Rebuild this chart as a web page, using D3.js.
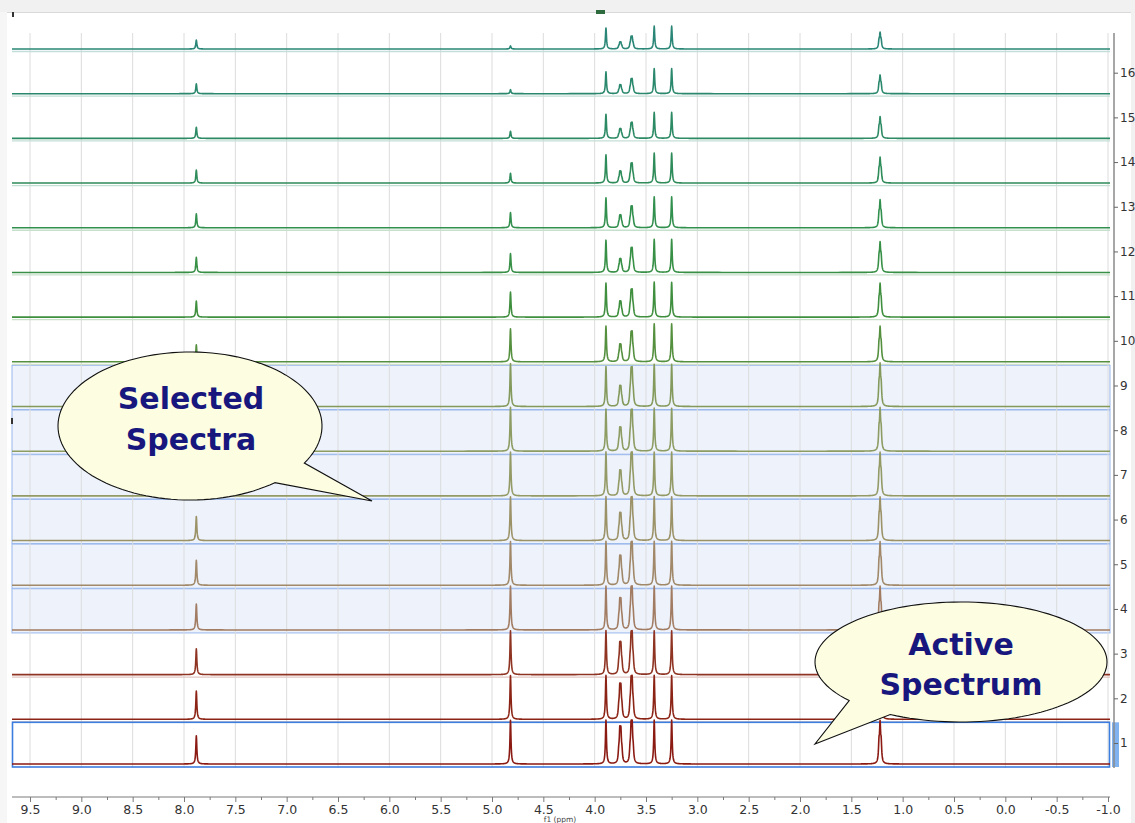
<!DOCTYPE html>
<html><head><meta charset="utf-8">
<script src="https://cdn.jsdelivr.net/npm/d3@7"></script>
<style>html,body{margin:0;padding:0;background:#fff;overflow:hidden}</style>
</head><body>
<svg id="chart" width="1135" height="823"></svg>
<script>
// ---------------- data ----------------
const spectrumIds = [1,2,3,4,5,6,7,8,9,10,11,12,13,14,15,16,17];
const axisLabels = [1,2,3,4,5,6,7,8,9,10,11,12,13,14,15,16];
const ppmTicks = [9.5,9.0,8.5,8.0,7.5,7.0,6.5,6.0,5.5,5.0,4.5,4.0,3.5,3.0,2.5,2.0,1.5,1.0,0.5,0.0,-0.5,-1.0];
const minorTicks = [9.25,8.75,8.25,7.75,7.25,6.75,6.25,5.75,5.25,4.75,4.25,3.75,3.25,2.75,2.25,1.75,1.25,0.75,0.25,-0.25,-0.75];
const peakShifts = [7.88, 4.82, 3.89, 3.75, 3.64, 3.42, 3.25, 1.22];
const peakMultiplicity = [1, 1, 1, 4, 4, 1, 1, 3];
// peak heights (a.u., 100 = one stack step) for spectrum 1..17
const h788 = [63,63,58,58,56,54,51,49,45,38,36,34,31,29,25,22,20];
const h482 = [98,98,98,98,98,98,98,98,96,74,56,42,34,22,16,9,7];
const h389 = [98,98,98,98,98,98,98,94,89,80,76,72,67,63,54,49,47];
const h375 = [85,81,74,72,67,63,58,54,47,40,36,31,29,27,22,20,16];
const h364 = [98,98,98,98,98,98,98,94,89,69,63,56,49,45,36,34,29];
const h342 = [98,98,98,98,98,98,98,96,94,85,78,74,69,67,58,56,51];
const h325 = [98,98,98,98,98,98,98,96,94,85,78,74,69,67,58,56,51];
const h122 = [98,98,98,98,98,98,98,98,98,80,76,69,63,58,49,42,38];
const peakHeights = [h788, h482, h389, h375, h364, h342, h325, h122];
const spectrumColors = ["#8a1a12","#8c2416","#8f3422","#a27c62","#a08868","#9c9268","#949a66","#8c9c62","#849a5c",
                        "#55903f","#3f8f3f","#379046","#32904f","#2e8c5a","#2c8a64","#2a886d","#2a8676"];
const selectedSpectra = [4,5,6,7,8,9];
const activeSpectrum = 1;

// ---------------- layout ----------------
const svg = d3.select("#chart");
const W = 1135, H = 823;
const plotLeft = 12, plotRight = 1110, plotTop = 33, plotBottom = 768;
const x = d3.scaleLinear().domain([9.5, -1.0]).range([30, 1108]);
const yBase = d3.scaleLinear().domain([1, 17]).range([764, 49]);
const rowStep = yBase(1) - yBase(2);
const intens = d3.scaleLinear().domain([0, 100]).range([0, rowStep]);
const yLabel = d3.scaleLinear().domain([1, 17]).range([743, 28]);

svg.append("rect").attr("width", W).attr("height", H).attr("fill", "#fff");
svg.append("rect").attr("x", 0).attr("y", 0).attr("width", W).attr("height", 12).attr("fill", "#f1f1f1");
svg.append("line").attr("x1", 0).attr("x2", W).attr("y1", 12.5).attr("y2", 12.5).attr("stroke", "#d9d9d9");
svg.append("rect").attr("x", 0).attr("y", 12).attr("width", 7).attr("height", H).attr("fill", "#f6f6f6");
svg.append("rect").attr("x", 1131).attr("y", 12).attr("width", 4).attr("height", H).attr("fill", "#f1f1f1");

// selection bands
svg.append("g").selectAll("rect").data(selectedSpectra).join("rect")
  .attr("x", plotLeft).attr("width", plotRight - plotLeft)
  .attr("y", d => yBase(d + 1) + 3.5).attr("height", rowStep - 0.5)
  .attr("fill", "#edf2fb").attr("stroke", "#9ab8ec").attr("stroke-width", 1);

// vertical grid
svg.append("g").selectAll("line").data(ppmTicks).join("line")
  .attr("x1", d => x(d)).attr("x2", d => x(d))
  .attr("y1", plotTop).attr("y2", plotBottom)
  .attr("stroke", "#dcdcdc").attr("stroke-width", 1);

// pale separators under baselines (non-selected)
svg.append("g").selectAll("line")
  .data(spectrumIds.filter(d => !selectedSpectra.includes(d) && d !== activeSpectrum))
  .join("line")
  .attr("x1", plotLeft).attr("x2", plotRight)
  .attr("y1", d => yBase(d) + 2.5).attr("y2", d => yBase(d) + 2.5)
  .attr("stroke", d => d3.interpolateRgb(spectrumColors[d - 1], "#ffffff")(0.72))
  .attr("stroke-width", 1.3);

// active spectrum box
svg.append("rect").attr("x", plotLeft + 0.5).attr("width", plotRight - plotLeft - 1)
  .attr("y", yBase(activeSpectrum + 1) + 3).attr("height", rowStep)
  .attr("fill", "none").attr("stroke", "#3c7ee0").attr("stroke-width", 1.6);

// ---------------- spectra ----------------
const J = 0.0105, hw = 0.006;
function unitShape(n) {
  const w = [1], out = [];
  for (let i = 1; i < n; i++) w.push(w[i - 1] * (n - i) / i);
  for (let i = 0; i < n; i++) out.push({off: (i - (n - 1) / 2) * J, w: w[i]});
  const f = d => { let s = 0; out.forEach(l => { const t = (d - l.off) / hw; s += l.w / (1 + t * t); }); return s; };
  let mx = 0;
  for (let d = -0.05; d <= 0.05; d += 0.0005) mx = Math.max(mx, f(d));
  return d => f(d) / mx;
}
const shapes = peakMultiplicity.map(unitShape);
const ppmL = x.invert(plotLeft), ppmR = x.invert(plotRight);
// sampling grid: coarse everywhere, fine near peaks
let grid = d3.range(ppmL, ppmR, -0.04);
peakShifts.forEach(p => { grid = grid.concat(d3.range(p + 0.25, p - 0.25, -0.002)); });
grid.push(ppmR);
grid = grid.filter(v => v <= ppmL && v >= ppmR).sort((a, b) => b - a);

const line = d3.line().x(d => x(d[0])).y(d => d[1]);
const specG = svg.append("g");
spectrumIds.slice().reverse().forEach(k => {
  const pts = grid.map(ppm => {
    let s = 0;
    peakShifts.forEach((p, i) => { s += peakHeights[i][k - 1] * shapes[i](ppm - p); });
    return [ppm, yBase(k) - intens(s)];
  });
  specG.append("path").attr("d", line(pts)).attr("fill", "none")
    .attr("stroke", spectrumColors[k - 1]).attr("stroke-width", 1.6)
    .attr("stroke-linejoin", "round");
});

// ---------------- axes ----------------
const fmt = d => d.toFixed(1);
const xAxis = svg.append("g").attr("transform", "translate(0,797)");
xAxis.append("line").attr("x1", plotLeft).attr("x2", plotRight).attr("y1", 0).attr("y2", 0).attr("stroke", "#7a7a7a");
xAxis.append("g").call(d3.axisBottom(x).tickValues(ppmTicks).tickFormat(fmt).tickSize(5).tickSizeOuter(0).tickPadding(3))
  .call(g => g.select(".domain").remove())
  .call(g => g.selectAll("line").attr("stroke", "#7a7a7a"))
  .call(g => g.selectAll("text").attr("font-family", "DejaVu Sans").attr("font-size", 12.5).attr("fill", "#333"));
xAxis.append("g").call(d3.axisBottom(x).tickValues(minorTicks).tickFormat("").tickSize(3).tickSizeOuter(0))
  .call(g => g.select(".domain").remove())
  .call(g => g.selectAll("line").attr("stroke", "#7a7a7a"));
svg.append("text").attr("x", 560).attr("y", 821.5).attr("text-anchor", "middle")
  .attr("font-family", "DejaVu Sans").attr("font-size", 7.5).attr("fill", "#444").text("f1 (ppm)");

const yAxis = svg.append("g").attr("transform", "translate(1114,0)");
yAxis.append("rect").attr("x", -2).attr("width", 7)
  .attr("y", yBase(activeSpectrum + 1) + 3).attr("height", rowStep).attr("fill", "#7fb2ee");
yAxis.append("line").attr("x1", 0).attr("x2", 0).attr("y1", plotTop).attr("y2", plotBottom)
  .attr("stroke", "#8a8a8a").attr("stroke-width", 1.5);
yAxis.append("g").call(d3.axisRight(yLabel).tickValues(axisLabels).tickFormat(d3.format("d")).tickSize(4).tickSizeOuter(0).tickPadding(2))
  .call(g => g.select(".domain").remove())
  .call(g => g.selectAll("line").attr("stroke", "#666"))
  .call(g => g.selectAll("text").attr("font-family", "DejaVu Sans").attr("font-size", 12).attr("fill", "#333"));

// small UI marks
svg.append("rect").attr("x", 12).attr("y", 12).attr("width", 2).attr("height", 5).attr("fill", "#333");
svg.append("rect").attr("x", 596).attr("y", 10).attr("width", 9).attr("height", 4).attr("fill", "#2d6b3f");
svg.append("rect").attr("x", 11).attr("y", 418).attr("width", 2).attr("height", 6).attr("fill", "#333");

// ---------------- callouts ----------------
function callout(cx, cy, rx, ry, a0, a1, tip) {
  const p = d3.path();
  const n = 120;
  for (let i = 0; i <= n; i++) {
    const a = (a0 + (a1 - a0) * i / n) * Math.PI / 180;
    const px = cx + rx * Math.cos(a), py = cy + ry * Math.sin(a);
    if (i === 0) p.moveTo(px, py); else p.lineTo(px, py);
  }
  p.lineTo(tip[0], tip[1]);
  p.closePath();
  return p.toString();
}
const calloutFill = "#fdfde2";
const textColor = "#17177e";
svg.append("path").attr("d", callout(190, 426, 132, 74, 50, 390, [372, 501]))
  .attr("fill", calloutFill).attr("stroke", "#111").attr("stroke-width", 1.1);
svg.append("path").attr("d", callout(961, 662, 146, 60, 140, 479, [815, 744]))
  .attr("fill", calloutFill).attr("stroke", "#111").attr("stroke-width", 1.1);
const tStyle = s => s.attr("font-family", "DejaVu Sans").attr("font-weight", "bold")
  .attr("font-size", 30).attr("fill", textColor).attr("text-anchor", "middle");
svg.append("text").attr("x", 191).attr("y", 409).text("Selected").call(tStyle);
svg.append("text").attr("x", 191).attr("y", 450).text("Spectra").call(tStyle);
svg.append("text").attr("x", 961).attr("y", 655).text("Active").call(tStyle);
svg.append("text").attr("x", 961).attr("y", 695).text("Spectrum").call(tStyle);
</script>
</body></html>
